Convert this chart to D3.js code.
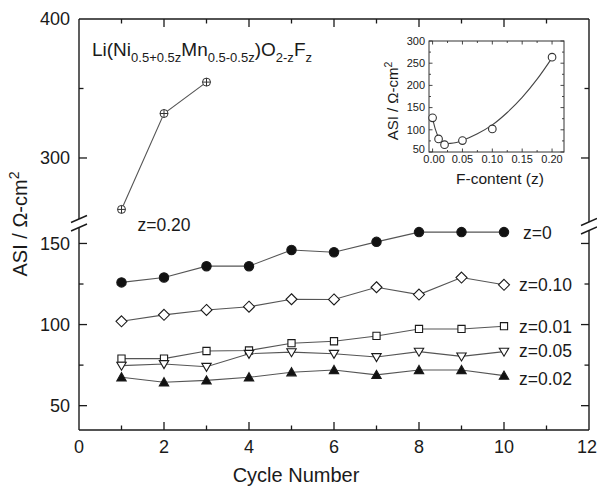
<!DOCTYPE html>
<meta charset="utf-8">
<style>
body {
  margin: 0;
  background: #fff;
  font-family: "Liberation Sans", Arial, sans-serif;
}
text {
  fill: #1a1a1a;
}
.frame {
  fill: none;
  stroke: #1a1a1a;
  stroke-width: 1.4;
}
.tick {
  stroke: #1a1a1a;
  stroke-width: 1.3;
}
.series {
  fill: none;
  stroke: #555;
  stroke-width: 1.1;
}
.marker {
  stroke: #1a1a1a;
  stroke-width: 1.1;
}
</style>
<body>
<script src="https://cdn.jsdelivr.net/npm/d3@7"></script>
<script>

var width = 597,
    height = 488;

// main chart data
var cycles = [1, 2, 3, 4, 5, 6, 7, 8, 9, 10];
var asiZ0   = [126, 129, 136, 136, 146, 144.6, 151, 157, 157, 157];
var asiZ010 = [102, 106, 109, 111, 115.6, 115.5, 123, 118.5, 129, 124.5];
var asiZ001 = [79, 79, 83.7, 84, 88.5, 89.7, 93, 97.3, 97.3, 99];
var asiZ005 = [74.7, 75.7, 74, 82, 83, 82, 80, 83.3, 80.4, 83.3];
var asiZ002 = [67.5, 64.4, 65.6, 67.5, 70.6, 72, 69, 72, 72, 68.5];
var cyclesZ020 = [1, 2, 3];
var asiZ020 = [263, 332, 354.6];

var seriesNames = ["z=0", "z=0.10", "z=0.01", "z=0.05", "z=0.02"];

var xTicks = [0, 2, 4, 6, 8, 10, 12];
var xMinor = [1, 3, 5, 7, 9, 11];
var yTicksLow = [50, 100, 150];
var yMinorLow = [75, 125];
var yTicksHigh = [300, 400];
var yMinorHigh = [350];

// inset data
var fContent = [0, 0.01, 0.02, 0.05, 0.10, 0.20];
var asiVsF = [127, 79.5, 66.6, 75.7, 102, 263.6];
var fitF   = [0, 0.005, 0.01, 0.015, 0.02, 0.03, 0.04, 0.05, 0.075, 0.1, 0.125, 0.15, 0.175, 0.2];
var fitAsi = [126, 100, 83, 74, 70, 69.5, 71.5, 76, 91, 111, 139, 173, 214, 262];
var fTicks = [0, 0.05, 0.10, 0.15, 0.20];
var fMinor = [0.025, 0.075, 0.125, 0.175];
var insetYTicks = [50, 100, 150, 200, 250, 300];
var insetYMinor = [75, 125, 175, 225, 275];

var left = 79, right = 589, plotTop = 19, bottom = 430, breakY = 224;

var x = d3.scaleLinear().domain([0, 12]).range([left, right]);
var yLow = d3.scaleLinear().domain([35, 162]).range([bottom, breakY]);
var yHigh = d3.scaleLinear().domain([252.5, 400]).range([breakY, plotTop]);

var svg = d3.select("body").append("svg")
    .attr("width", width)
    .attr("height", height);

// frame with broken vertical axes
var frame = svg.append("g");
frame.append("line").attr("class", "frame").attr("x1", left).attr("x2", right).attr("y1", plotTop).attr("y2", plotTop);
frame.append("line").attr("class", "frame").attr("x1", left).attr("x2", right).attr("y1", bottom).attr("y2", bottom);

[[left, 219, 227.5], [right, 222, 230.5]].forEach(function(b) {
  frame.append("line").attr("class", "frame").attr("x1", b[0]).attr("x2", b[0]).attr("y1", plotTop).attr("y2", b[1]);
  frame.append("line").attr("class", "frame").attr("x1", b[0]).attr("x2", b[0]).attr("y1", b[2]).attr("y2", bottom);
  [b[1], b[2]].forEach(function(c) {
    frame.append("line").attr("class", "frame")
      .attr("x1", b[0] - 8).attr("y1", c + 3.5)
      .attr("x2", b[0] + 8).attr("y2", c - 3.5);
  });
});

// x ticks (top and bottom, inward)
function xTick(vals, len) {
  vals.forEach(function(v) {
    frame.append("line").attr("class", "tick")
      .attr("x1", x(v)).attr("x2", x(v)).attr("y1", bottom).attr("y2", bottom - len);
    frame.append("line").attr("class", "tick")
      .attr("x1", x(v)).attr("x2", x(v)).attr("y1", plotTop).attr("y2", plotTop + len);
  });
}
xTick(xTicks.slice(1, -1), 8);
xTick(xMinor, 4.5);

function yTick(vals, scale, len) {
  vals.forEach(function(v) {
    frame.append("line").attr("class", "tick")
      .attr("x1", left).attr("x2", left + len).attr("y1", scale(v)).attr("y2", scale(v));
    frame.append("line").attr("class", "tick")
      .attr("x1", right).attr("x2", right - len).attr("y1", scale(v)).attr("y2", scale(v));
  });
}
yTick(yTicksLow, yLow, 8);
yTick(yMinorLow, yLow, 4.5);
yTick([300], yHigh, 8);
yTick(yMinorHigh, yHigh, 4.5);

// last label sits against the right edge, as in the figure
svg.selectAll(".xlabel")
    .data(xTicks)
  .enter().append("text")
    .attr("class", "xlabel")
    .attr("x", function(d) { return Math.min(x(d), width - 10); })
    .attr("y", 453)
    .attr("text-anchor", "middle")
    .style("font-size", "18px")
    .text(function(d) { return d; });

var yLabels = yTicksLow.map(function(v) { return {v: v, y: yLow(v)}; })
  .concat(yTicksHigh.map(function(v) { return {v: v, y: yHigh(v)}; }));

svg.selectAll(".ylabel")
    .data(yLabels)
  .enter().append("text")
    .attr("class", "ylabel")
    .attr("x", 70)
    .attr("y", function(d) { return d.y; })
    .attr("dy", "0.36em")
    .attr("text-anchor", "end")
    .style("font-size", "18px")
    .text(function(d) { return d.v; });

svg.append("text")
    .attr("x", 296)
    .attr("y", 482)
    .attr("text-anchor", "middle")
    .style("font-size", "20px")
    .text("Cycle Number");

var yTitle = svg.append("text")
    .attr("transform", "translate(27,224) rotate(-90)")
    .attr("text-anchor", "middle")
    .style("font-size", "20px");
yTitle.append("tspan").text("ASI / \u03A9-cm");
yTitle.append("tspan").attr("dy", -8).style("font-size", "14px").text("2");

// title formula
var title = svg.append("text")
    .attr("x", 92)
    .attr("y", 56)
    .style("font-size", "19px");
title.append("tspan").text("Li(Ni");
title.append("tspan").attr("dy", 6).style("font-size", "13px").text("0.5+0.5z");
title.append("tspan").attr("dy", -6).text("Mn");
title.append("tspan").attr("dy", 6).style("font-size", "13px").text("0.5-0.5z");
title.append("tspan").attr("dy", -6).text(")O");
title.append("tspan").attr("dy", 6).style("font-size", "13px").text("2-z");
title.append("tspan").attr("dy", -6).text("F");
title.append("tspan").attr("dy", 6).style("font-size", "13px").text("z");

// markers
function markerPath(type) {
  switch (type) {
    case "circle": return d3.symbol(d3.symbolCircle, Math.PI * 4.7 * 4.7)();
    case "diamond": return "M0,-5.5L5.5,0L0,5.5L-5.5,0Z";
    case "square": return "M-3.6,-3.6H3.6V3.6H-3.6Z";
    case "down": return "M-4.7,-3.4H4.7L0,4.6Z";
    case "up": return "M-4.7,3.6H4.7L0,-4.6Z";
  }
}

var line = d3.line()
    .x(function(d) { return x(d.c); })
    .y(function(d) { return yLow(d.v); });

var lowSeries = [
  {name: seriesNames[0], values: asiZ0, type: "circle", fill: "#111", dy: 7},
  {name: seriesNames[1], values: asiZ010, type: "diamond", fill: "#fff", dy: 6},
  {name: seriesNames[2], values: asiZ001, type: "square", fill: "#fff", dy: 7},
  {name: seriesNames[3], values: asiZ005, type: "down", fill: "#fff", dy: 5},
  {name: seriesNames[4], values: asiZ002, type: "up", fill: "#111", dy: 9}
];

lowSeries.forEach(function(s) {
  var pts = cycles.map(function(c, i) { return {c: c, v: s.values[i]}; });
  svg.append("path")
      .attr("class", "series")
      .attr("d", line(pts));
  svg.selectAll(null)
      .data(pts)
    .enter().append("path")
      .attr("class", "marker")
      .attr("d", markerPath(s.type))
      .attr("fill", s.fill)
      .attr("transform", function(d) { return "translate(" + x(d.c) + "," + yLow(d.v) + ")"; });
  var last = pts[pts.length - 1];
  svg.append("text")
      .attr("x", x(last.c) + (s.type === "circle" ? 19 : 15))
      .attr("y", yLow(last.v) + s.dy)
      .style("font-size", "17.5px")
      .text(s.name);
});

// z = 0.20 (upper segment)
var pts20 = cyclesZ020.map(function(c, i) { return {c: c, v: asiZ020[i]}; });
svg.append("path")
    .attr("class", "series")
    .attr("d", d3.line()
      .x(function(d) { return x(d.c); })
      .y(function(d) { return yHigh(d.v); })(pts20));
var cp = svg.selectAll(".cplus")
    .data(pts20)
  .enter().append("g")
    .attr("class", "cplus")
    .attr("transform", function(d) { return "translate(" + x(d.c) + "," + yHigh(d.v) + ")"; });
cp.append("circle").attr("r", 4).attr("fill", "#fff").attr("stroke", "#333").attr("stroke-width", 1);
cp.append("path").attr("d", "M-4,0H4M0,-4V4").attr("stroke", "#333").attr("stroke-width", 1);
svg.append("text")
    .attr("x", x(pts20[0].c) + 16)
    .attr("y", yHigh(pts20[0].v) + 22)
    .style("font-size", "17.5px")
    .text("z=0.20");

// inset
var il = 429, ir = 564, it = 41, ib = 152;
var xi = d3.scaleLinear().domain([-0.006, 0.22]).range([il, ir]);
var yi = d3.scaleLinear().domain([50, 300]).range([ib, it]);

var inset = svg.append("g");
inset.append("rect")
    .attr("x", il).attr("y", it)
    .attr("width", ir - il).attr("height", ib - it)
    .attr("fill", "#fff")
    .attr("stroke", "#333")
    .attr("stroke-width", 1);

function insetX(vals, len) {
  vals.forEach(function(v) {
    inset.append("line").attr("stroke", "#333").attr("stroke-width", 0.9)
      .attr("x1", xi(v)).attr("x2", xi(v)).attr("y1", ib).attr("y2", ib - len);
    inset.append("line").attr("stroke", "#333").attr("stroke-width", 0.9)
      .attr("x1", xi(v)).attr("x2", xi(v)).attr("y1", it).attr("y2", it + len);
  });
}
function insetY(vals, len) {
  vals.forEach(function(v) {
    inset.append("line").attr("stroke", "#333").attr("stroke-width", 0.9)
      .attr("x1", il).attr("x2", il + len).attr("y1", yi(v)).attr("y2", yi(v));
    inset.append("line").attr("stroke", "#333").attr("stroke-width", 0.9)
      .attr("x1", ir).attr("x2", ir - len).attr("y1", yi(v)).attr("y2", yi(v));
  });
}
insetX(fTicks, 3.5);
insetX(fMinor, 2);
insetY(insetYTicks, 3.5);
insetY(insetYMinor, 2);

inset.selectAll(".fl")
    .data(fTicks)
  .enter().append("text")
    .attr("x", function(d) { return xi(d) + (d === 0 ? 1.5 : 0); })
    .attr("y", 163)
    .attr("text-anchor", "middle")
    .style("font-size", "11px")
    .text(function(d) { return d.toFixed(2); });

inset.selectAll(".il")
    .data(insetYTicks)
  .enter().append("text")
    .attr("x", 425)
    .attr("y", function(d) { return d === 50 ? yi(d) - 3 : yi(d); })
    .attr("dy", "0.35em")
    .attr("text-anchor", "end")
    .style("font-size", "11px")
    .text(function(d) { return d; });

inset.append("text")
    .attr("x", 500)
    .attr("y", 184)
    .attr("text-anchor", "middle")
    .style("font-size", "15.5px")
    .text("F-content (z)");

var iTitle = inset.append("text")
    .attr("transform", "translate(398,101) rotate(-90)")
    .attr("text-anchor", "middle")
    .style("font-size", "15px");
iTitle.append("tspan").text("ASI / \u03A9-cm");
iTitle.append("tspan").attr("dy", -6).style("font-size", "10.5px").text("2");

var fit = fitF.map(function(f, i) { return [f, fitAsi[i]]; });
inset.append("path")
    .attr("fill", "none")
    .attr("stroke", "#444")
    .attr("stroke-width", 1.1)
    .attr("d", d3.line()
      .curve(d3.curveCatmullRom)
      .x(function(d) { return xi(d[0]); })
      .y(function(d) { return yi(d[1]); })(fit));

inset.selectAll(".ipt")
    .data(fContent.map(function(f, i) { return [f, asiVsF[i]]; }))
  .enter().append("circle")
    .attr("cx", function(d) { return xi(d[0]); })
    .attr("cy", function(d) { return yi(d[1]); })
    .attr("r", 3.8)
    .attr("fill", "#fff")
    .attr("stroke", "#333")
    .attr("stroke-width", 1.1);

</script>
